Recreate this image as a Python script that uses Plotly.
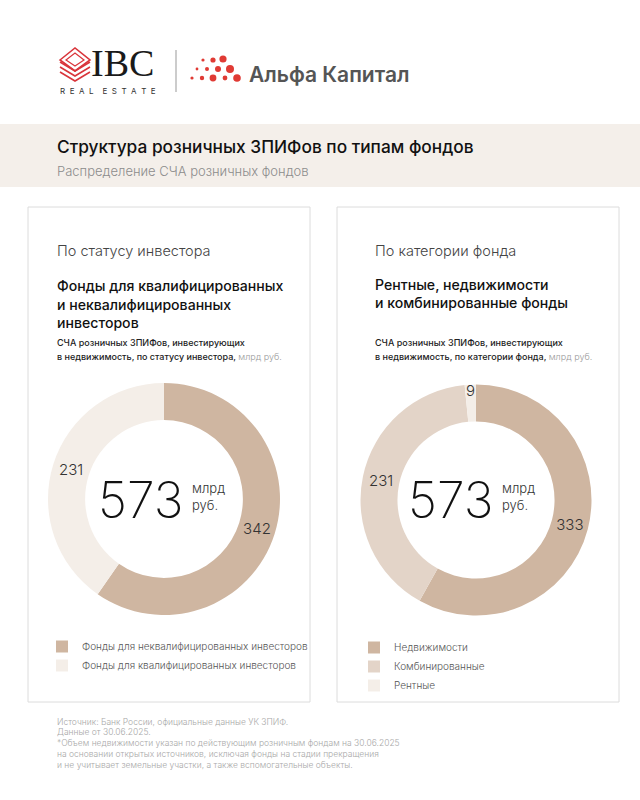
import plotly.graph_objects as go

# ---------------- data ----------------
investor_labels = ["Фонды для неквалифицированных инвесторов", "Фонды для квалифицированных инвесторов"]
investor_values = [342, 231]
investor_colors = ["#CFB6A1", "#F4EEE8"]

category_labels = ["Недвижимости", "Комбинированные", "Рентные"]
category_values = [333, 231, 9]
category_colors = ["#CFB6A1", "#E3D4C8", "#F4EEE8"]

title = "Структура розничных ЗПИФов по типам фондов"
subtitle = "Распределение СЧА розничных фондов"
unit_center = "млрд<br>руб."
footnote_lines = [
    "Источник: Банк России, официальные данные УК ЗПИФ.",
    "Данные от 30.06.2025.",
    "*Объем недвижимости указан по действующим розничным фондам на 30.06.2025",
    "на основании открытых источников, исключая фонды на стадии прекращения",
    "и не учитывает земельные участки, а также вспомогательные объекты.",
]

W, H = 640, 800
FONT = "Inter"


def px(x):
    return x / W


def py(y):
    return 1 - y / H


fig = go.Figure()

fig.add_trace(go.Pie(
    labels=investor_labels, values=investor_values, sort=False, direction="clockwise",
    rotation=0, hole=0.68, marker=dict(colors=investor_colors, line=dict(width=0)),
    textinfo="value", textposition="inside", insidetextorientation="horizontal",
    textfont=dict(family=FONT, size=15, color="#333333", weight=300),
    domain=dict(x=[px(48), px(280)], y=[py(615), py(383)]),
    legend="legend", hoverinfo="label+value",
))
fig.add_trace(go.Pie(
    labels=category_labels, values=category_values, sort=False, direction="clockwise",
    rotation=0, hole=0.68, marker=dict(colors=category_colors, line=dict(width=0)),
    textinfo="value", textposition="inside", insidetextorientation="horizontal",
    textfont=dict(family=FONT, size=15, color="#333333", weight=300),
    domain=dict(x=[px(360.5), px(591.5)], y=[py(616), py(384)]),
    legend="legend2", hoverinfo="label+value",
))

shapes = []
annotations = []

# header band
shapes.append(dict(type="rect", xref="paper", yref="paper", x0=0, x1=1, y0=py(187), y1=py(124),
                   fillcolor="#F4EFEA", line=dict(width=0), layer="below"))
# panels
for x0, x1 in [(28, 310), (337, 619)]:
    shapes.append(dict(type="rect", xref="paper", yref="paper", x0=px(x0), x1=px(x1), y0=py(702), y1=py(207),
                       fillcolor="rgba(0,0,0,0)", line=dict(color="#DCDCDC", width=1), layer="below"))

# ---- logos ----
red = "#D9353B"
for dy in [0, 5, 10]:
    shapes.append(dict(type="path", xref="paper", yref="paper",
                       path=f"M {px(60)} {py(62+dy)} L {px(75)} {py(71+dy)} L {px(90)} {py(62+dy)}",
                       line=dict(color=red, width=1.6)))
shapes.append(dict(type="path", xref="paper", yref="paper",
                   path=f"M {px(60)} {py(60)} L {px(75)} {py(48)} L {px(90)} {py(60)} L {px(75)} {py(71)} Z",
                   line=dict(color=red, width=1.6)))
shapes.append(dict(type="path", xref="paper", yref="paper",
                   path=f"M {px(66)} {py(60)} L {px(75)} {py(53)} L {px(84)} {py(60)} L {px(75)} {py(66)} Z",
                   line=dict(color=red, width=1.2)))
annotations.append(dict(text="IBC", x=px(89), y=py(63), xanchor="left", yanchor="middle", showarrow=False,
                        font=dict(family="Liberation Serif", size=38, color="#1a1a1a")))
annotations.append(dict(text="R  E  A  L    E  S  T  A  T  E", x=px(58), y=py(91), xanchor="left",
                        yanchor="middle", showarrow=False, font=dict(family=FONT, size=8, color="#333333")))
shapes.append(dict(type="line", xref="paper", yref="paper", x0=px(176), x1=px(176), y0=py(50), y1=py(92),
                   line=dict(color="#999999", width=1)))
dots = [(203, 60, 1.6), (213, 60, 2.6), (223, 59, 3.6),
        (197, 69, 1.4), (207, 69, 2.0), (218, 69, 3.0), (230, 69, 4.0),
        (192, 78, 1.6), (202, 78, 2.2), (213, 78, 3.4), (225, 78, 2.4), (237, 78, 3.8)]
for cx, cy, r in dots:
    shapes.append(dict(type="circle", xref="paper", yref="paper", x0=px(cx - r), x1=px(cx + r),
                       y0=py(cy + r), y1=py(cy - r), fillcolor="#E03A34", line=dict(width=0)))
annotations.append(dict(text="Альфа Капитал", x=px(247), y=py(74), xanchor="left", yanchor="middle",
                        showarrow=False, font=dict(family=FONT, size=21, color="#555555", weight=600)))

# ---- title ----
annotations.append(dict(text=title, x=px(55), y=py(147), xanchor="left", yanchor="middle", showarrow=False,
                        font=dict(family=FONT, size=17.3, color="#111111", weight=500)))
annotations.append(dict(text=subtitle, x=px(55), y=py(171), xanchor="left", yanchor="middle", showarrow=False,
                        font=dict(family=FONT, size=13, color="#8C8C8C", weight=300)))


def add_lines(x, ys, lines, size, color, weight):
    for y, t in zip(ys, lines):
        annotations.append(dict(text=t, x=px(x), y=py(y), xanchor="left", yanchor="middle", showarrow=False,
                                font=dict(family=FONT, size=size, color=color, weight=weight)))


add_lines(55, [250], ["По статусу инвестора"], 14.5, "#444444", 300)
add_lines(55, [286, 304, 322], ["Фонды для квалифицированных", "и неквалифицированных", "инвесторов"],
          14.1, "#111111", 500)
add_lines(55, [342, 356], ["СЧА розничных ЗПИФов, инвестирующих",
                           "в недвижимость, по статусу инвестора, <span style='color:#9a9a9a;font-weight:300'>млрд руб.</span>"],
          9, "#222222", 500)
add_lines(373, [250], ["По категории фонда"], 14.5, "#444444", 300)
add_lines(373, [285, 303], ["Рентные, недвижимости", "и комбинированные фонды"], 14.1, "#111111", 500)
add_lines(373, [342, 356], ["СЧА розничных ЗПИФов, инвестирующих",
                            "в недвижимость, по категории фонда, <span style='color:#9a9a9a;font-weight:300'>млрд руб.</span>"],
          9, "#222222", 500)

for cx, vals in [(140, investor_values), (450, category_values)]:
    annotations.append(dict(text=str(sum(vals)), x=px(cx), y=py(500), xanchor="center", yanchor="middle",
                            showarrow=False, font=dict(family=FONT, size=50, color="#111111", weight=200)))
    annotations.append(dict(text=unit_center, x=px(cx + 50), y=py(496), xanchor="left", yanchor="middle",
                            showarrow=False, align="left",
                            font=dict(family=FONT, size=13, color="#333333", weight=300)))

add_lines(55, [722, 732, 743, 754, 765], footnote_lines, 8.5, "#A8A8A8", 300)

legend_common = dict(font=dict(family=FONT, size=10, color="#555555", weight=300),
                     bgcolor="rgba(0,0,0,0)", xanchor="left", yanchor="top", orientation="v",
                     itemclick=False, itemdoubleclick=False)

fig.update_layout(
    width=W, height=H, margin=dict(l=0, r=0, t=0, b=0),
    paper_bgcolor="white", plot_bgcolor="white",
    shapes=shapes, annotations=annotations, showlegend=True,
    legend=dict(x=px(42), y=py(632), **legend_common),
    legend2=dict(x=px(354), y=py(633), **legend_common),
    uniformtext=dict(minsize=14, mode="show"),
)

fig.write_html("out.html")
